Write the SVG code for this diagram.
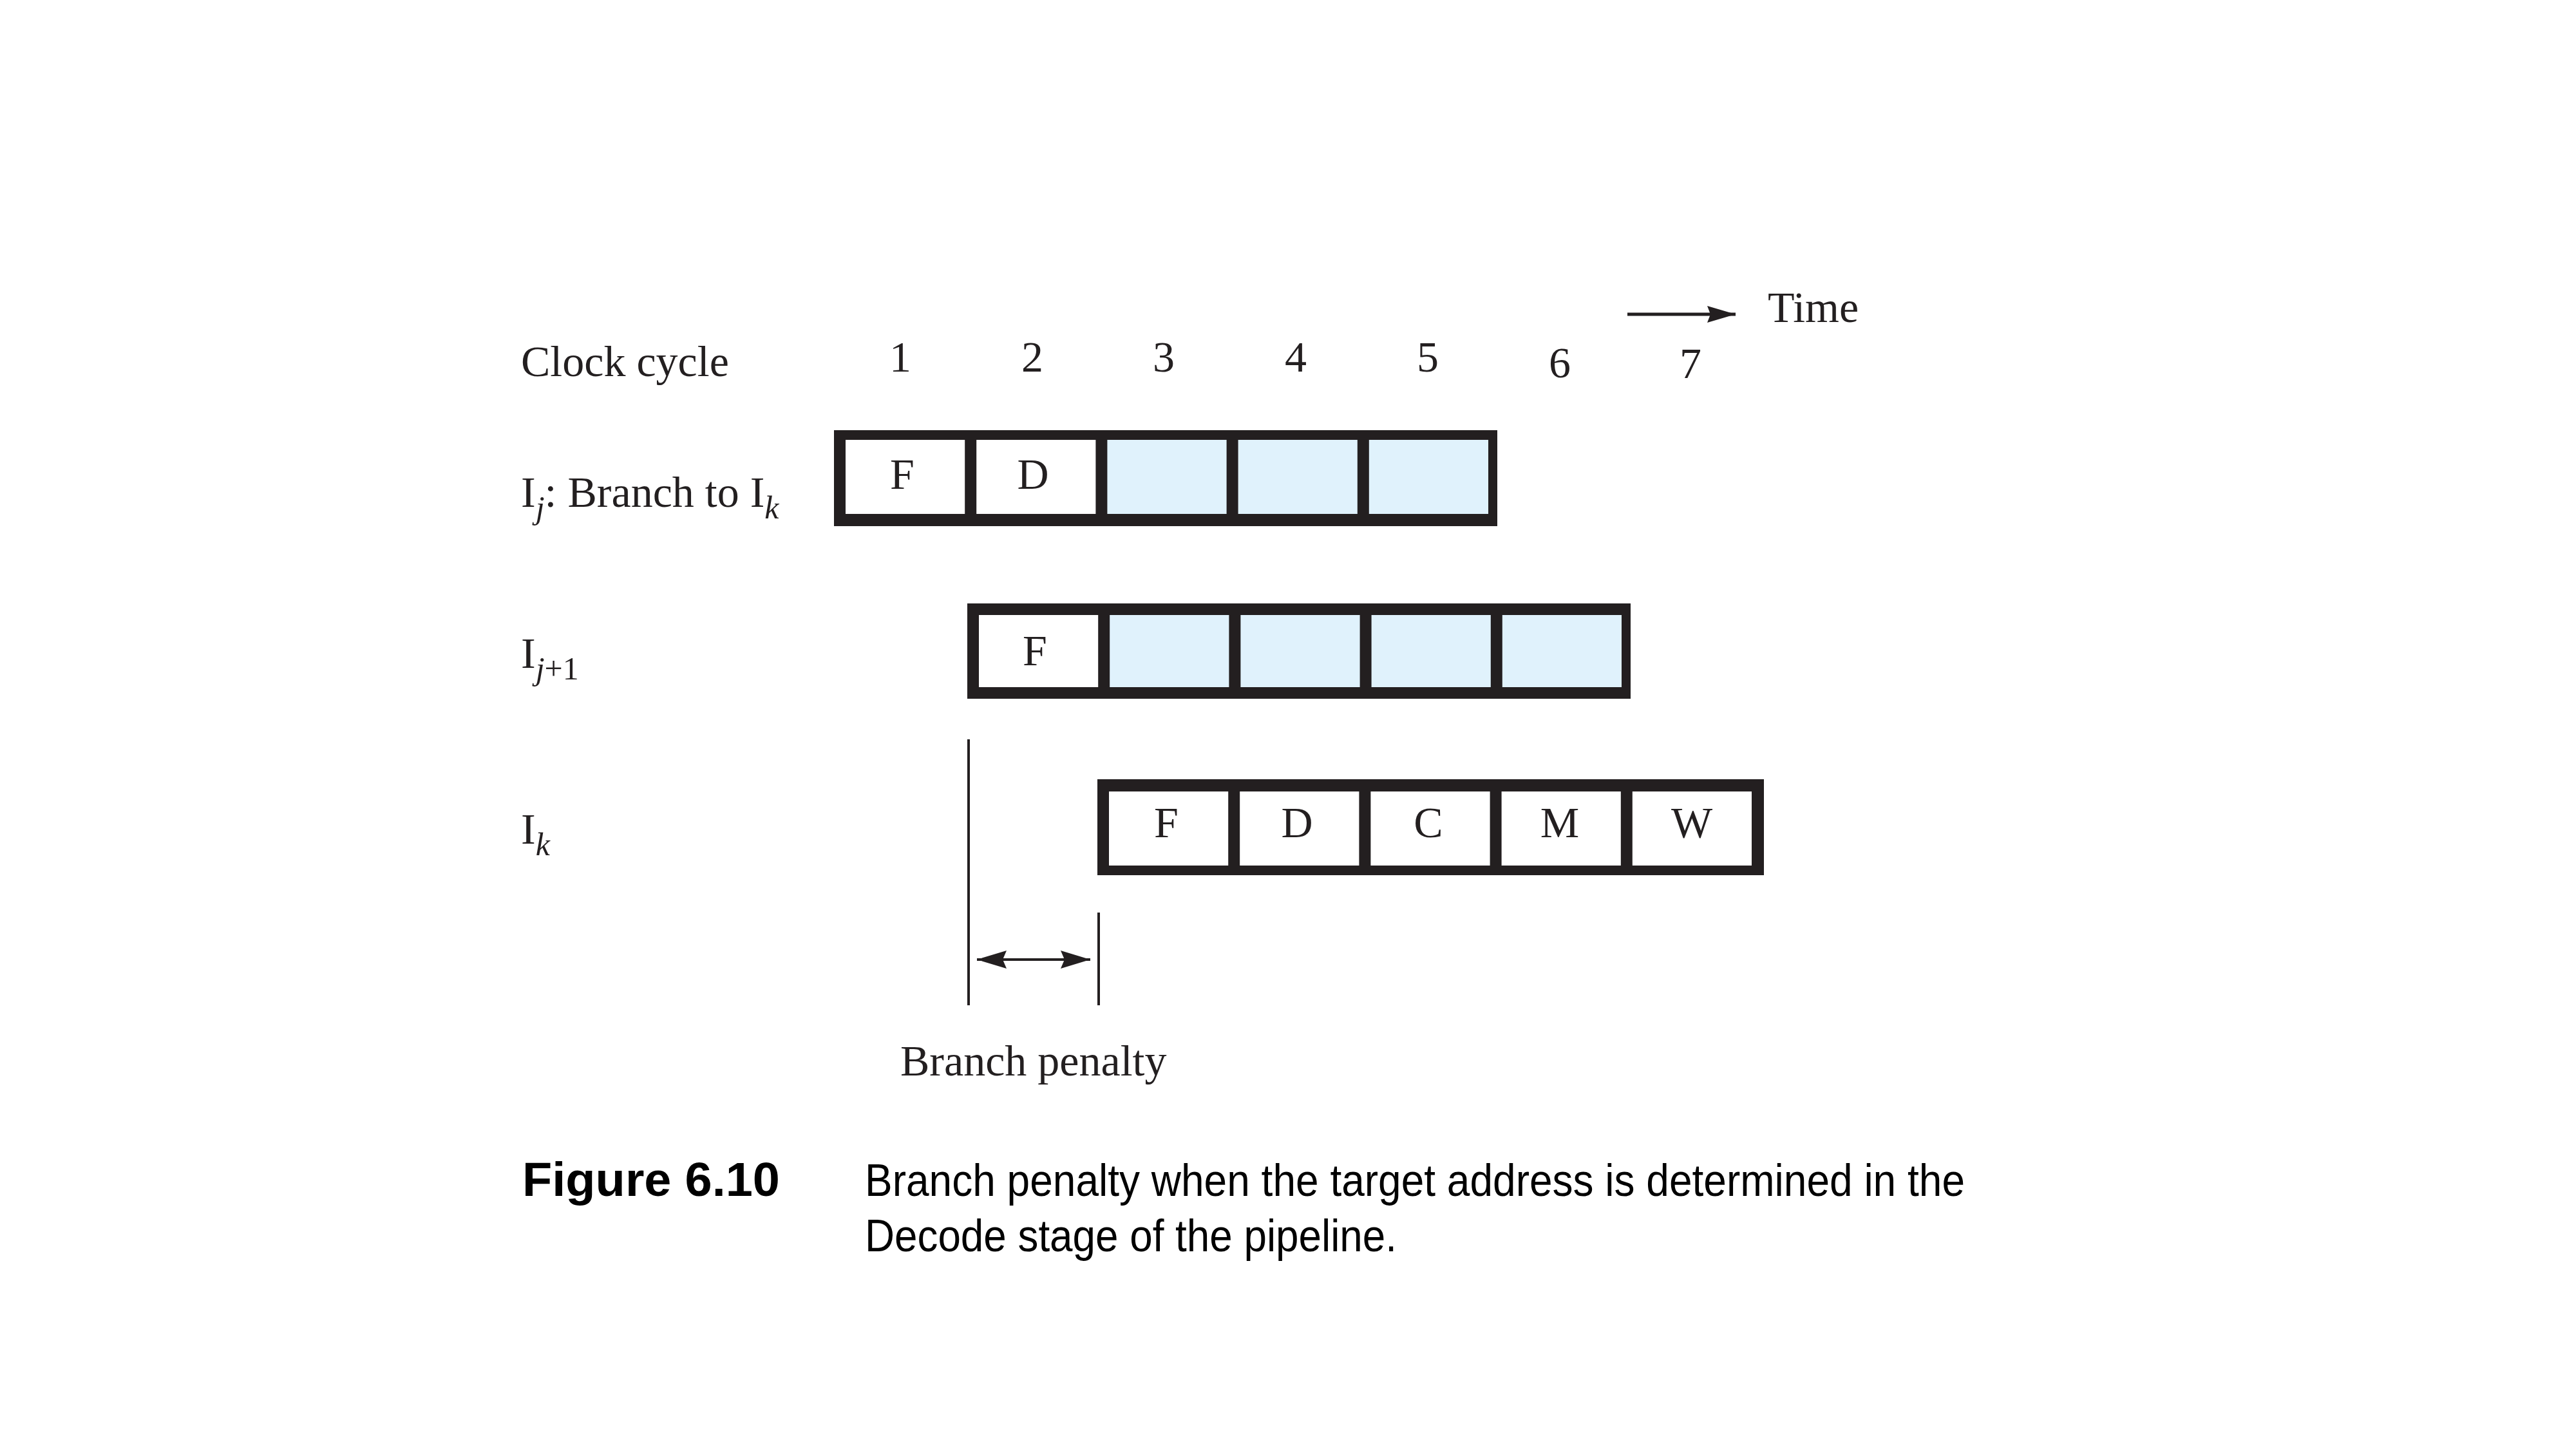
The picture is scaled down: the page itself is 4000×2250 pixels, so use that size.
<svg xmlns="http://www.w3.org/2000/svg" width="4000" height="2250" viewBox="0 0 4000 2250">
<style>
.serif{font-family:"Liberation Serif","Times New Roman",serif;fill:#231f20}
.lbl{font-size:68px}
.num{font-size:68px;text-anchor:middle}
.cell{font-size:68px;text-anchor:middle}
.sub{font-size:50px;font-style:italic}
.subn{font-size:50px}
.frame{fill:#231f20}
.blank{fill:#ffffff}
.shade{fill:#e0f2fc}
.cap{font-family:"Liberation Sans",Arial,sans-serif;fill:#000000}
.line{stroke:#231f20;stroke-width:4;fill:none}
</style>
<defs>
<marker id="ahp" markerUnits="userSpaceOnUse" markerWidth="46" markerHeight="28" viewBox="0 0 46 28" refX="46" refY="14" orient="auto-start-reverse">
<path d="M0,0 L46,14 L0,28 L6,14 z" fill="#231f20"/>
</marker>
<marker id="aht" markerUnits="userSpaceOnUse" markerWidth="44" markerHeight="26" viewBox="0 0 44 26" refX="44" refY="13" orient="auto">
<path d="M0,0 L44,13 L0,26 L5,13 z" fill="#231f20"/>
</marker>
</defs>
<rect width="4000" height="2250" fill="#ffffff"/>

<g id="header">
<text class="serif lbl" x="809" y="584">Clock cycle</text>
<text class="serif num" x="1398" y="577">1</text>
<text class="serif num" x="1603" y="577">2</text>
<text class="serif num" x="1807" y="577">3</text>
<text class="serif num" x="2012" y="577">4</text>
<text class="serif num" x="2217" y="577">5</text>
<text class="serif num" x="2422" y="586">6</text>
<text class="serif num" x="2625" y="587">7</text>
<text class="serif lbl" x="2745" y="500">Time</text>
</g>

<g id="row-labels">
<text class="serif lbl" x="809" y="787">I<tspan class="sub" dy="18">j</tspan><tspan dy="-18">: Branch to I</tspan><tspan class="sub" dy="18">k</tspan></text>
<text class="serif lbl" x="809" y="1037">I<tspan class="sub" dy="18">j</tspan><tspan class="subn">+1</tspan></text>
<text class="serif lbl" x="809" y="1310">I<tspan class="sub" dy="18">k</tspan></text>
</g>

<g id="node-ij">
<rect class="frame" x="1295" y="668" width="1030" height="149"/>
<rect class="blank" x="1313" y="683" width="185.2" height="115"/>
<rect class="blank" x="1516.2" y="683" width="185.2" height="115"/>
<rect class="shade" x="1719.4" y="683" width="185.2" height="115"/>
<rect class="shade" x="1922.6" y="683" width="185.2" height="115"/>
<rect class="shade" x="2125.8" y="683" width="185.2" height="115"/>
<text class="serif cell" x="1401" y="759">F</text>
<text class="serif cell" x="1604" y="759">D</text>
</g>

<g id="node-ij1">
<rect class="frame" x="1502" y="937" width="1030" height="148"/>
<rect class="blank" x="1520" y="955" width="185.2" height="112"/>
<rect class="shade" x="1723.2" y="955" width="185.2" height="112"/>
<rect class="shade" x="1926.4" y="955" width="185.2" height="112"/>
<rect class="shade" x="2129.6" y="955" width="185.2" height="112"/>
<rect class="shade" x="2332.8" y="955" width="185.2" height="112"/>
<text class="serif cell" x="1607" y="1033">F</text>
</g>

<g id="node-ik">
<rect class="frame" x="1704" y="1210" width="1035" height="149"/>
<rect class="blank" x="1722" y="1229" width="185.2" height="115"/>
<rect class="blank" x="1925.2" y="1229" width="185.2" height="115"/>
<rect class="blank" x="2128.4" y="1229" width="185.2" height="115"/>
<rect class="blank" x="2331.6" y="1229" width="185.2" height="115"/>
<rect class="blank" x="2534.8" y="1229" width="185.2" height="115"/>
<text class="serif cell" x="1811" y="1300">F</text>
<text class="serif cell" x="2014" y="1300">D</text>
<text class="serif cell" x="2218" y="1300">C</text>
<text class="serif cell" x="2422" y="1300">M</text>
<text class="serif cell" x="2627" y="1300">W</text>
</g>

<g id="connectors">
<line x1="2527" y1="488" x2="2695" y2="488" stroke="#231f20" stroke-width="5" marker-end="url(#aht)"/>
<line class="line" x1="1504" y1="1148" x2="1504" y2="1561"/>
<line class="line" x1="1706" y1="1417" x2="1706" y2="1561"/>
<line class="line" x1="1517" y1="1490" x2="1693" y2="1490" marker-start="url(#ahp)" marker-end="url(#ahp)"/>
</g>

<g id="penalty-label">
<text class="serif lbl" x="1398" y="1670">Branch penalty</text>
</g>

<g id="caption">
<text class="cap" x="811" y="1857" font-size="74" font-weight="bold" textLength="400" lengthAdjust="spacingAndGlyphs">Figure 6.10</text>
<text class="cap" x="1343" y="1857" font-size="70" textLength="1708" lengthAdjust="spacingAndGlyphs">Branch penalty when the target address is determined in the</text>
<text class="cap" x="1343" y="1943" font-size="70" textLength="826" lengthAdjust="spacingAndGlyphs">Decode stage of the pipeline.</text>
</g>
</svg>
